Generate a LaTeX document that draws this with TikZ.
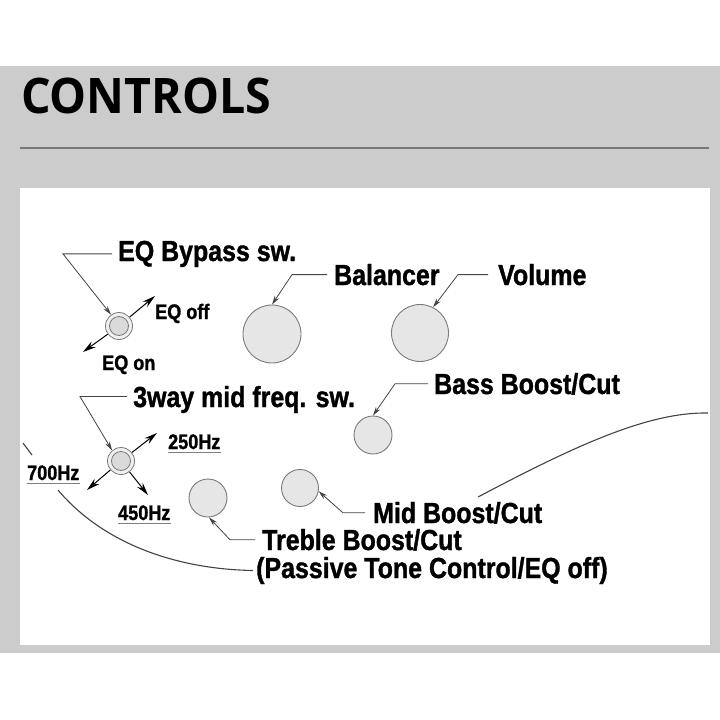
\documentclass[tikz,border=0pt]{standalone}
\usepackage{fontspec}
\newfontfamily\labfont{Liberation Sans}[FakeStretch=0.86, BoldFeatures={FakeBold=1.2}]
\newfontfamily\titlefont{Open Sans}[FakeStretch=0.95]
\usetikzlibrary{arrows.meta}
\definecolor{bggrey}{HTML}{CCCCCC}
\definecolor{knobfill}{HTML}{E6E6E6}
\definecolor{knobline}{HTML}{7A7A7A}
\definecolor{leadcol}{HTML}{444444}
\definecolor{rulecol}{HTML}{777777}
\begin{document}
\begin{tikzpicture}[x=1pt,y=-1pt,
 big/.style={anchor=base west, inner sep=0pt, font=\labfont\bfseries\fontsize{29}{30}\selectfont},
 small/.style={anchor=base west, inner sep=0pt, font=\labfont\bfseries\fontsize{21}{22}\selectfont},
 knob/.style={circle, draw=knobline, fill=knobfill, line width=0.9pt, inner sep=0pt},
 swouter/.style={circle, draw=knobline, fill=white!94!black, line width=0.8pt, inner sep=0pt, minimum size=27pt},
 swinner/.style={circle, draw=knobline, fill=knobfill!95!black, line width=0.8pt, inner sep=0pt, minimum size=19pt},
 leader/.style={draw=leadcol, line width=0.8pt, -{Stealth[length=9pt,width=5pt]}},
 swarrow/.style={draw=black, line width=1pt, -{Stealth[length=13pt,width=7pt]}},
 body/.style={draw=leadcol, line width=1.1pt},
 uline/.style={draw=gray, line width=0.6pt}]
\useasboundingbox (0,0) rectangle (720,720);
\fill[white] (0,0) rectangle (720,720);
\fill[bggrey] (0,66) rectangle (720,653);
\fill[white] (19.5,188) rectangle (709.5,645);
\draw[line width=1.2pt, rulecol] (20,148) -- (709,148);
\node[anchor=base west, inner sep=0pt, font=\titlefont\bfseries\fontsize{49}{50}\selectfont] (title) at (21,113) {CONTROLS};

% knobs
\node[knob, minimum size=58pt] (bal) at (272,334) {};
\node[knob, minimum size=57pt] (vol) at (420,333) {};
\node[knob, minimum size=38pt] (bass) at (373,435) {};
\node[knob, minimum size=37pt] (mid) at (300,488) {};
\node[knob, minimum size=38pt] (tre) at (208,498) {};

% switches
\node[swouter] (sw1) at (119,326) {};
\node[swinner] (sw1in) at (119,326) {};
\node[swouter] (sw2) at (121,461) {};
\node[swinner] (sw2in) at (121,461) {};

% labels
\node[big] (eqlab) at (118,261) {EQ Bypass sw.};
\node[big] (ballab) at (334,285) {Balancer};
\node[big] (vollab) at (498,285) {Volume};
\node[big] (midsw) at (133,407) {3way mid freq. sw.};
\node[big] (basslab) at (434,394) {Bass Boost/Cut};
\node[big] (midlab) at (373,523) {Mid Boost/Cut};
\node[big] (trelab) at (262,550) {Treble Boost/Cut};
\node[big] (paslab) at (256,578) {(Passive Tone Control/EQ off)};

\node[small] (off) at (155,319) {EQ off};
\node[small] (on) at (102,370) {EQ on};
\node[small] (f250) at (168,449) {250Hz};
\node[small] (f700) at (27,480) {700Hz};
\node[small] (f450) at (118,520) {450Hz};
\foreach \n in {f250,f700,f450}
  \draw[uline] ([yshift=-3pt]\n.base west) -- ([yshift=-3pt]\n.base east);

% leaders
\coordinate (eqbend) at (63,253);
\draw[leader] ([xshift=-6pt]eqlab.west) -- (eqbend |- eqlab.west) -- (sw1.125);
\coordinate (balbend) at (292,275);
\draw[leader] ([xshift=-7pt]ballab.west) -- (balbend |- ballab.west) -- (bal.north);
\coordinate (volbend) at (458,275);
\draw[leader] ([xshift=-10pt]vollab.west) -- (volbend |- vollab.west) -- (vol.63);
\coordinate (swbend) at (80,396);
\coordinate (swstart) at ([xshift=-6pt,yshift=3pt]midsw.west);
\draw[leader] (swstart) -- (swbend |- swstart) -- (sw2.130);
\coordinate (bassbend) at (395,386);
\draw[leader] ([xshift=-6pt]basslab.west) -- (bassbend |- basslab.west) -- (bass.north);
\coordinate (midbend) at (343,516);
\draw[leader] ([xshift=-8pt]midlab.west) -- (midbend |- midlab.west) -- (mid.-10);
\coordinate (trebend) at (230,541);
\draw[leader] ([xshift=-7pt]trelab.west) -- (trebend |- trelab.west) -- (tre.-87);

% switch arrows
\coordinate (offtip) at (155,296);
\coordinate (ontip) at (83,352);
\draw[swarrow] (sw1.40) -- (offtip);
\draw[swarrow] (sw1.216) -- (ontip);
\coordinate (t250) at (157,433);
\coordinate (t700) at (87,490);
\coordinate (t450) at (148,495);
\draw[swarrow] (sw2.38) -- (t250);
\draw[swarrow] (sw2.220) -- (t700);
\draw[swarrow] (sw2.-52) -- (t450);

% body outline
\draw[body] (23,443) -- (32,455);
\draw[body] (58,490) .. controls (100,540) and (170,569) .. ([xshift=-3pt]paslab.west);
\draw[body] (478,497) .. controls (580,443) and (650,412) .. (708,413);
\end{tikzpicture}
\end{document}
